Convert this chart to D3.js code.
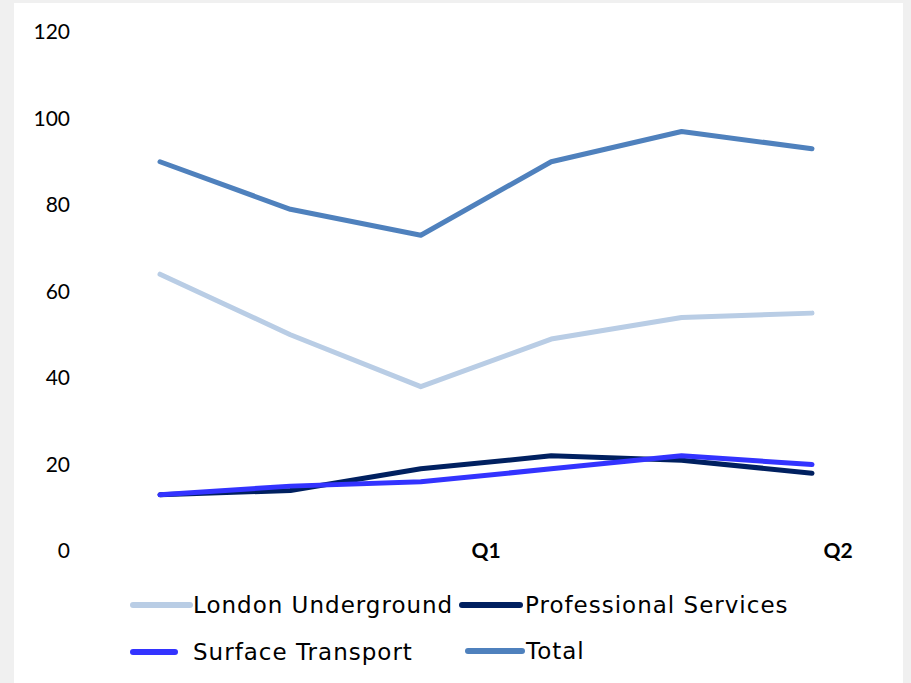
<!DOCTYPE html>
<html>
<head>
<meta charset="utf-8">
<script src="https://cdn.jsdelivr.net/npm/d3@7"></script>
<style>
  body { margin: 0; background: #f0f0f0; }
  svg { display: block; }
</style>
</head>
<body>
<script>
// chart data
let periods = ["P1", "P2", "P3", "P4", "P5", "P6"];
let londonUnderground = [64, 50, 38, 49, 54, 55];
let professionalServices = [13, 14, 19, 22, 21, 18];
let surfaceTransport = [13, 15, 16, 19, 22, 20];
let total = [90, 79, 73, 90, 97, 93];
let yTicks = [0, 20, 40, 60, 80, 100, 120];
let quarterLabels = [{ label: "Q1", at: 2.5 }, { label: "Q2", at: 5.2 }];

let series = [
    { name: "London Underground", values: londonUnderground, color: "#b9cde5" },
    { name: "Professional Services", values: professionalServices, color: "#002060" },
    { name: "Surface Transport", values: surfaceTransport, color: "#3333ff" },
    { name: "Total", values: total, color: "#4f81bd" }
];

let width = 911, height = 683;

let svg = d3.select("body").append("svg")
    .attr("width", width)
    .attr("height", height);

// white panel
svg.append("rect")
    .attr("x", 14).attr("y", 3)
    .attr("width", 889).attr("height", height - 3)
    .attr("fill", "#fff");

let x = d3.scaleLinear().domain([0, periods.length - 1]).range([160, 812]);
let y = d3.scaleLinear().domain([0, 120]).range([551, 32]);

// y axis labels only
let yAxis = svg.append("g")
    .attr("transform", "translate(70,0)")
    .call(d3.axisLeft(y).tickValues(yTicks).tickSize(0).tickPadding(0));
yAxis.select(".domain").remove();
yAxis.selectAll("text")
    .attr("font-family", "Lato, sans-serif")
    .attr("font-size", 21)
    .attr("fill", "#000");

// quarter labels
svg.selectAll(".qlabel")
    .data(quarterLabels)
    .enter().append("text")
    .attr("class", "qlabel")
    .attr("x", d => x(d.at))
    .attr("y", 551)
    .attr("dy", "0.35em")
    .attr("text-anchor", "middle")
    .attr("font-family", "Lato, sans-serif")
    .attr("font-weight", "bold")
    .attr("font-size", 21)
    .text(d => d.label);

// lines
let line = d3.line()
    .x((d, i) => x(i))
    .y(d => y(d));

svg.selectAll(".series")
    .data(series)
    .enter().append("path")
    .attr("class", "series")
    .attr("d", d => line(d.values))
    .attr("fill", "none")
    .attr("stroke", d => d.color)
    .attr("stroke-width", 5)
    .attr("stroke-linecap", "round")
    .attr("stroke-linejoin", "round");

// legend
let legendPos = [
    { x1: 133, x2: 190, tx: 193, y: 605 },
    { x1: 462, x2: 520, tx: 525, y: 605 },
    { x1: 133, x2: 175, tx: 193, y: 652 },
    { x1: 468, x2: 522, tx: 526, y: 651 }
];

let legend = svg.selectAll(".legend")
    .data(series)
    .enter().append("g")
    .attr("class", "legend");

legend.append("line")
    .attr("x1", (d, i) => legendPos[i].x1)
    .attr("x2", (d, i) => legendPos[i].x2)
    .attr("y1", (d, i) => legendPos[i].y)
    .attr("y2", (d, i) => legendPos[i].y)
    .attr("stroke", d => d.color)
    .attr("stroke-width", 6)
    .attr("stroke-linecap", "round");

legend.append("text")
    .attr("x", (d, i) => legendPos[i].tx)
    .attr("y", (d, i) => legendPos[i].y)
    .attr("dy", "0.35em")
    .attr("font-family", "'DejaVu Sans', sans-serif")
    .attr("font-size", 23)
    .attr("letter-spacing", 1)
    .attr("fill", "#000")
    .text(d => d.name);
</script>
</body>
</html>
